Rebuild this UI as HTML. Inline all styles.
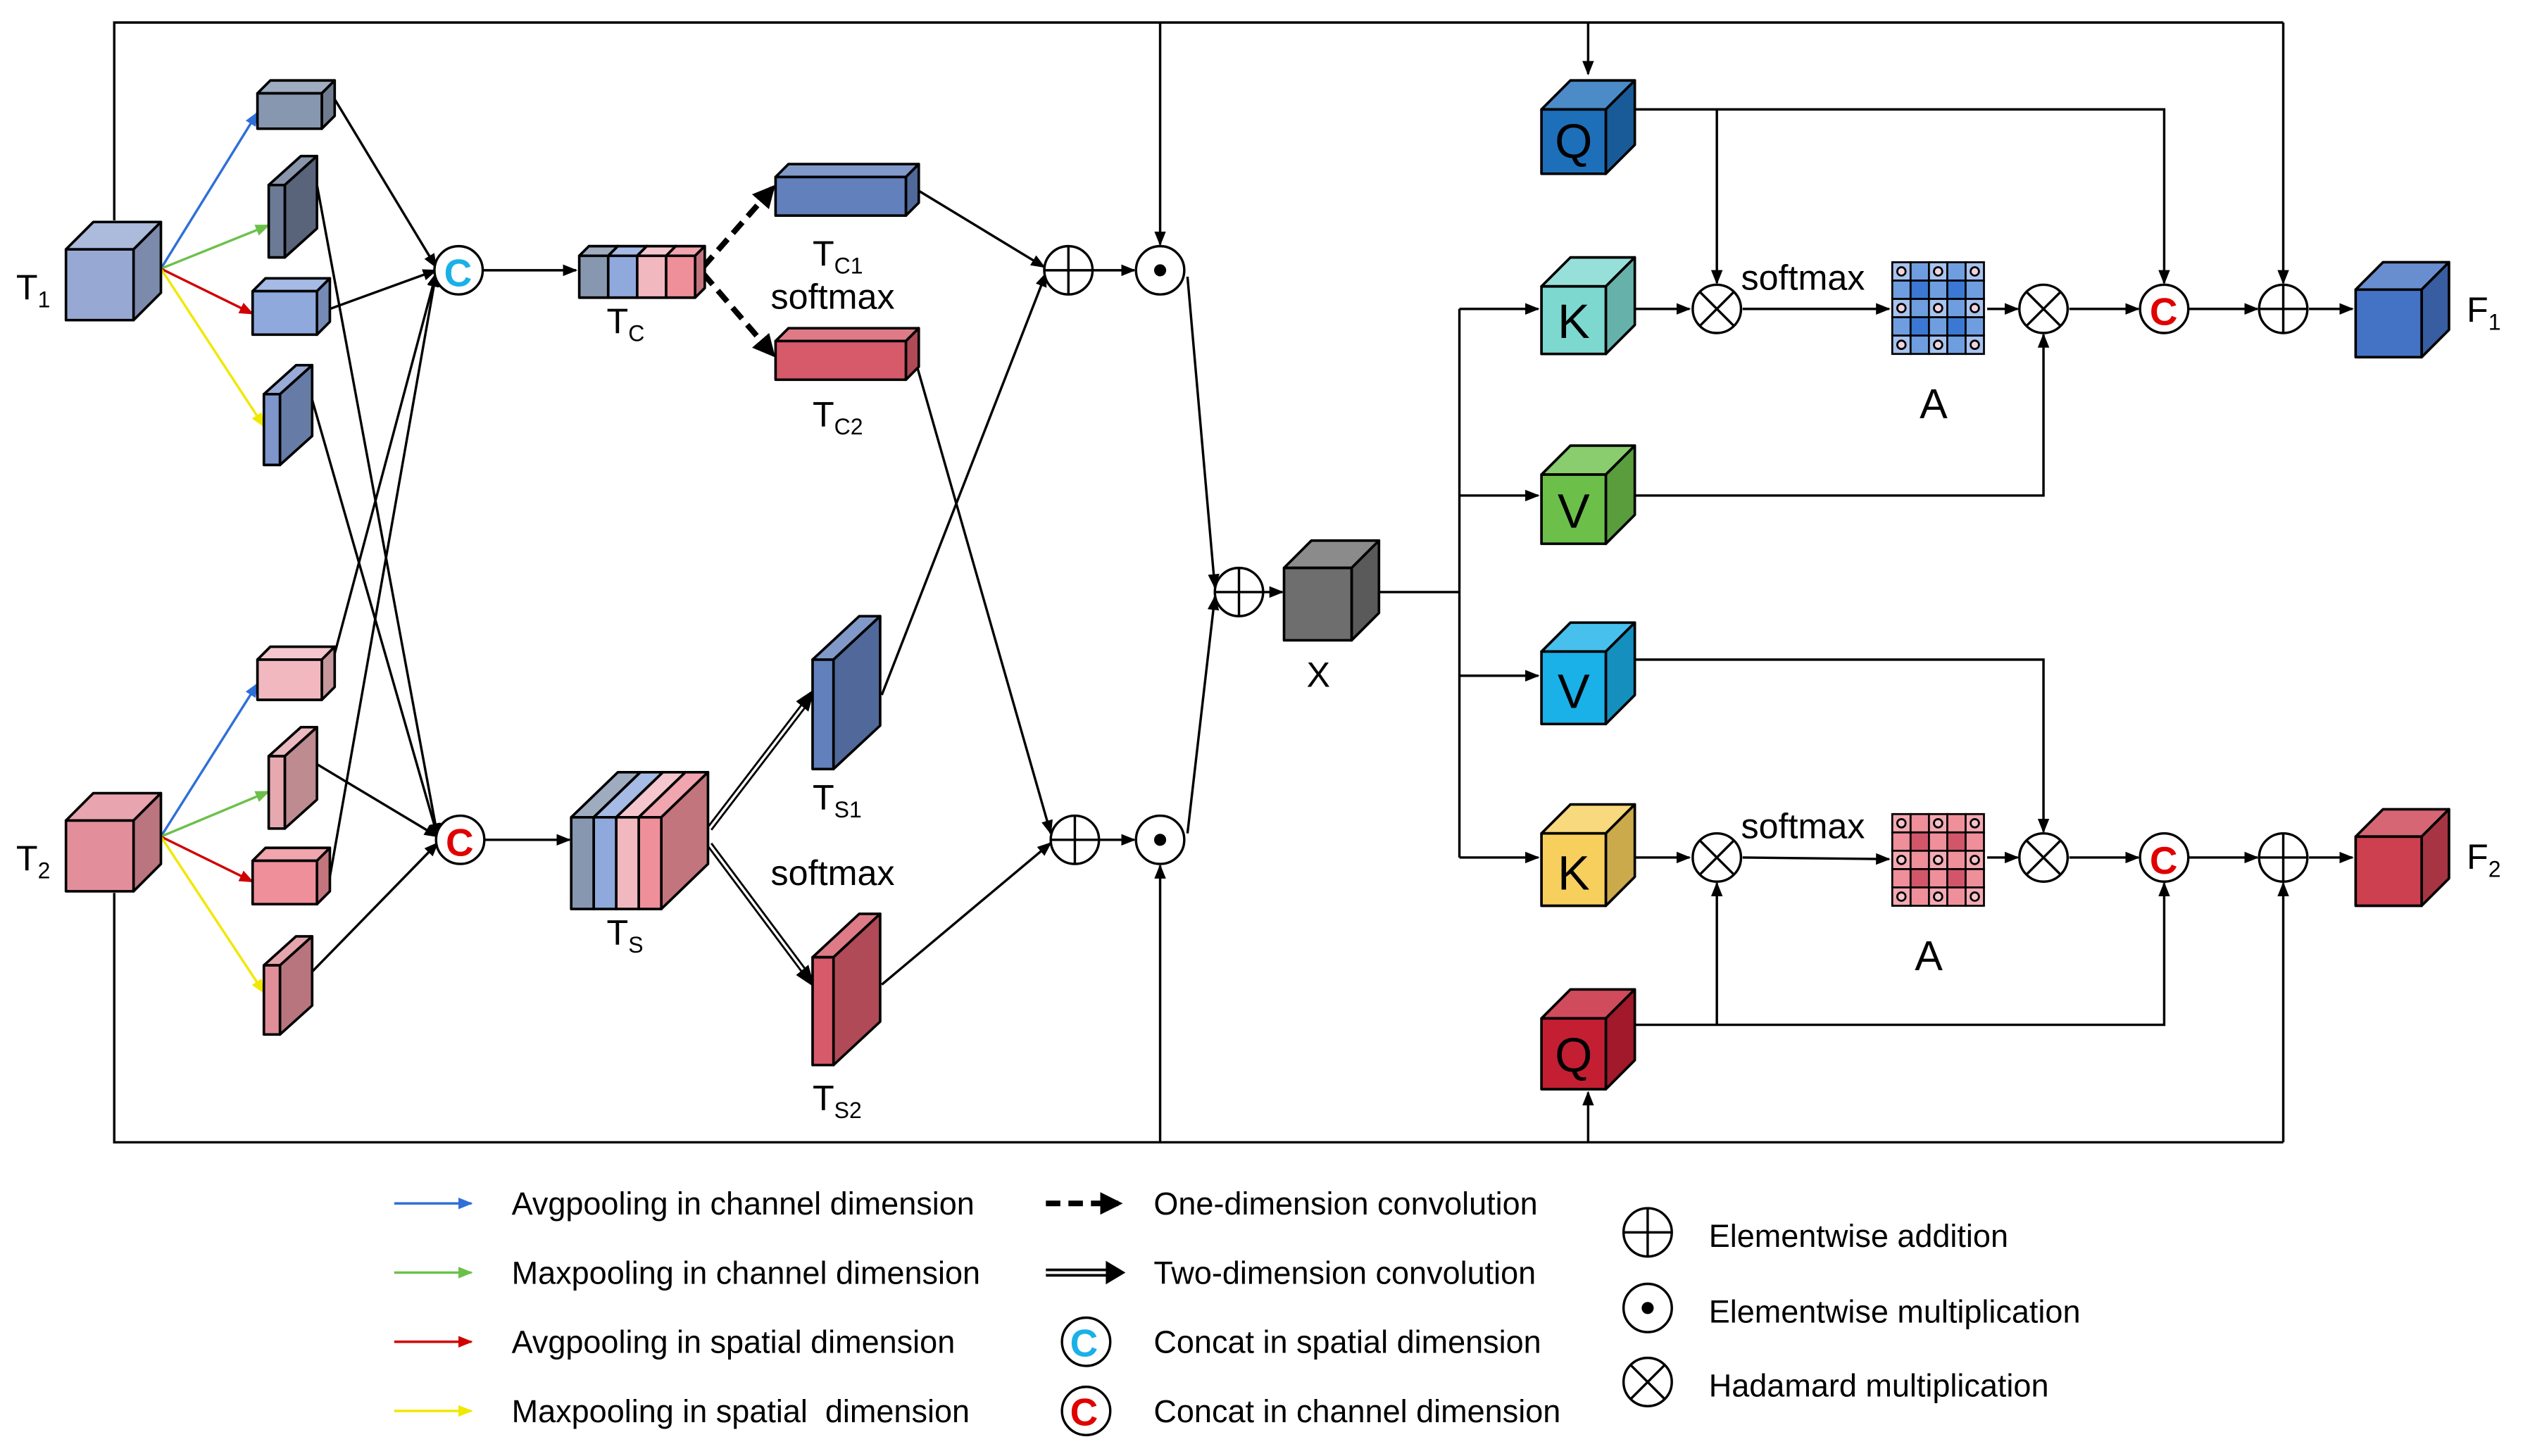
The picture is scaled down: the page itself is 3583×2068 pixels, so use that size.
<!DOCTYPE html>
<html><head><meta charset="utf-8"><style>
html,body{margin:0;padding:0;background:#fff;width:3583px;height:2068px;overflow:hidden}
svg{display:block}
text{font-family:"Liberation Sans",sans-serif;fill:#000}
</style></head><body>
<svg id="s" width="3583" height="2068" viewBox="0 0 1568 905" xmlns="http://www.w3.org/2000/svg">
<defs>
<marker id="a" viewBox="0 0 10 10" refX="9" refY="5" markerWidth="6" markerHeight="6" orient="auto"><path d="M0,1 L10,5 L0,9z" fill="#000"/></marker>
<marker id="ab" viewBox="0 0 10 10" refX="9" refY="5" markerWidth="6" markerHeight="6" orient="auto"><path d="M0,1 L10,5 L0,9z" fill="#2f6fd8"/></marker>
<marker id="ag" viewBox="0 0 10 10" refX="9" refY="5" markerWidth="6" markerHeight="6" orient="auto"><path d="M0,1 L10,5 L0,9z" fill="#6cc04a"/></marker>
<marker id="ar" viewBox="0 0 10 10" refX="9" refY="5" markerWidth="6" markerHeight="6" orient="auto"><path d="M0,1 L10,5 L0,9z" fill="#d00000"/></marker>
<marker id="ay" viewBox="0 0 10 10" refX="9" refY="5" markerWidth="6" markerHeight="6" orient="auto"><path d="M0,1 L10,5 L0,9z" fill="#f0e800"/></marker>
<marker id="ad" viewBox="0 0 10 10" refX="8" refY="5" markerWidth="4" markerHeight="4" orient="auto"><path d="M0,0 L10,5 L0,10z" fill="#000"/></marker>
</defs>
<g id="lines" fill="none" stroke="#000" stroke-width="1.5">
<polyline points="71,137 71,14 1419,14"/>
<polyline points="71,555 71,710 1419,710"/>
<line x1="721" y1="14" x2="721" y2="152" marker-end="url(#a)"/>
<line x1="987" y1="14" x2="987" y2="46" marker-end="url(#a)"/>
<line x1="1419" y1="14" x2="1419" y2="176" marker-end="url(#a)"/>
<line x1="721" y1="710" x2="721" y2="538" marker-end="url(#a)"/>
<line x1="987" y1="710" x2="987" y2="679" marker-end="url(#a)"/>
<line x1="1419" y1="710" x2="1419" y2="549" marker-end="url(#a)"/>
<line x1="100" y1="167" x2="160" y2="70" stroke="#2f6fd8" marker-end="url(#ab)"/>
<line x1="100" y1="167" x2="167" y2="140" stroke="#6cc04a" marker-end="url(#ag)"/>
<line x1="100" y1="167" x2="157" y2="195" stroke="#d00000" marker-end="url(#ar)"/>
<line x1="100" y1="167" x2="164" y2="265" stroke="#f0e800" marker-end="url(#ay)"/>
<line x1="100" y1="520" x2="160" y2="425" stroke="#2f6fd8" marker-end="url(#ab)"/>
<line x1="100" y1="520" x2="167" y2="492" stroke="#6cc04a" marker-end="url(#ag)"/>
<line x1="100" y1="520" x2="157" y2="548" stroke="#d00000" marker-end="url(#ar)"/>
<line x1="100" y1="520" x2="164" y2="617" stroke="#f0e800" marker-end="url(#ay)"/>
<line x1="207" y1="60" x2="271" y2="166" marker-end="url(#a)"/>
<line x1="205" y1="192" x2="271" y2="168" marker-end="url(#a)"/>
<line x1="207" y1="410" x2="271" y2="170" marker-end="url(#a)"/>
<line x1="205" y1="545" x2="271" y2="170" marker-end="url(#a)"/>
<line x1="197" y1="115" x2="272" y2="520" marker-end="url(#a)"/>
<line x1="193" y1="245" x2="272" y2="520" marker-end="url(#a)"/>
<line x1="197" y1="475" x2="272" y2="520" marker-end="url(#a)"/>
<line x1="193" y1="605" x2="272" y2="524" marker-end="url(#a)"/>
<line x1="299" y1="168" x2="358" y2="168" marker-end="url(#a)"/>
<line x1="300" y1="522" x2="354" y2="522" marker-end="url(#a)"/>
<line x1="437" y1="166" x2="480" y2="117" stroke-width="3.5" stroke-dasharray="9,5" marker-end="url(#ad)"/>
<line x1="437" y1="170" x2="480" y2="220" stroke-width="3.5" stroke-dasharray="9,5" marker-end="url(#ad)"/>
<line x1="441" y1="515" x2="503" y2="434" stroke-width="4"/>
<line x1="441" y1="515" x2="503" y2="434" stroke="#fff" stroke-width="1.5"/>
<polygon points="505,430 496,436 502,441" fill="#000"/>
<line x1="441" y1="525" x2="503" y2="608" stroke-width="4"/>
<line x1="441" y1="525" x2="503" y2="608" stroke="#fff" stroke-width="1.5"/>
<polygon points="505,612 496,606 502,601" fill="#000"/>
<line x1="570" y1="118" x2="649" y2="166" marker-end="url(#a)"/>
<line x1="548" y1="432" x2="650" y2="170" marker-end="url(#a)"/>
<line x1="570" y1="228" x2="653" y2="518" marker-end="url(#a)"/>
<line x1="548" y1="612" x2="653" y2="524" marker-end="url(#a)"/>
<line x1="679" y1="168" x2="705" y2="168" marker-end="url(#a)"/>
<line x1="683" y1="522" x2="705" y2="522" marker-end="url(#a)"/>
<line x1="738" y1="172" x2="755" y2="365" marker-end="url(#a)"/>
<line x1="738" y1="518" x2="755" y2="371" marker-end="url(#a)"/>
<line x1="785" y1="368" x2="797" y2="368" marker-end="url(#a)"/>
<line x1="857" y1="368" x2="907" y2="368"/>
<line x1="907" y1="192" x2="907" y2="533"/>
<line x1="907" y1="192" x2="956" y2="192" marker-end="url(#a)"/>
<line x1="907" y1="308" x2="956" y2="308" marker-end="url(#a)"/>
<line x1="907" y1="420" x2="956" y2="420" marker-end="url(#a)"/>
<line x1="907" y1="533" x2="956" y2="533" marker-end="url(#a)"/>
<line x1="1016" y1="192" x2="1050" y2="192" marker-end="url(#a)"/>
<polyline points="1016,68 1345,68 1345,176" marker-end="url(#a)"/>
<line x1="1067" y1="68" x2="1067" y2="176" marker-end="url(#a)"/>
<line x1="1083" y1="192" x2="1174" y2="192" marker-end="url(#a)"/>
<line x1="1235" y1="192" x2="1254" y2="192" marker-end="url(#a)"/>
<polyline points="1016,308 1270,308 1270,208" marker-end="url(#a)"/>
<line x1="1286" y1="192" x2="1329" y2="192" marker-end="url(#a)"/>
<line x1="1360" y1="192" x2="1403" y2="192" marker-end="url(#a)"/>
<line x1="1435" y1="192" x2="1462" y2="192" marker-end="url(#a)"/>
<line x1="1016" y1="533" x2="1050" y2="533" marker-end="url(#a)"/>
<line x1="1083" y1="533" x2="1174" y2="534" marker-end="url(#a)"/>
<line x1="1235" y1="533" x2="1254" y2="533" marker-end="url(#a)"/>
<polyline points="1016,410 1270,410 1270,517" marker-end="url(#a)"/>
<polyline points="1016,637 1345,637 1345,549" marker-end="url(#a)"/>
<line x1="1067" y1="637" x2="1067" y2="549" marker-end="url(#a)"/>
<line x1="1286" y1="533" x2="1329" y2="533" marker-end="url(#a)"/>
<line x1="1360" y1="533" x2="1403" y2="533" marker-end="url(#a)"/>
<line x1="1435" y1="533" x2="1462" y2="533" marker-end="url(#a)"/>
<line x1="245" y1="748" x2="293" y2="748" stroke="#2f6fd8" marker-end="url(#ab)"/>
<line x1="245" y1="791" x2="293" y2="791" stroke="#6cc04a" marker-end="url(#ag)"/>
<line x1="245" y1="834" x2="293" y2="834" stroke="#d00000" marker-end="url(#ar)"/>
<line x1="245" y1="877" x2="293" y2="877" stroke="#f0e800" marker-end="url(#ay)"/>
<line x1="650" y1="748" x2="695" y2="748" stroke-width="3.5" stroke-dasharray="9,5" marker-end="url(#ad)"/>
<line x1="650" y1="791" x2="694" y2="791" stroke-width="5"/>
<line x1="650" y1="791" x2="694" y2="791" stroke="#fff" stroke-width="1.8"/>
<polygon points="698,791 688,785 688,797" fill="#000"/>
</g>
<g id="shapes"></g>
<g id="ops" fill="#fff" stroke="#000" stroke-width="1.5"></g>
<g id="lbl" font-size="22">
<text x="10" y="186">T<tspan font-size="14" dy="5">1</tspan></text>
<text x="10" y="541">T<tspan font-size="14" dy="5">2</tspan></text>
<text x="377" y="207">T<tspan font-size="14" dy="5">C</tspan></text>
<text x="505" y="165">T<tspan font-size="14" dy="5">C1</tspan></text>
<text x="479" y="192" font-size="22">softmax</text>
<text x="505" y="265">T<tspan font-size="14" dy="5">C2</tspan></text>
<text x="377" y="587">T<tspan font-size="14" dy="5">S</tspan></text>
<text x="505" y="503">T<tspan font-size="14" dy="5">S1</tspan></text>
<text x="479" y="550" font-size="22">softmax</text>
<text x="505" y="690">T<tspan font-size="14" dy="5">S2</tspan></text>
<text x="812" y="427">X</text>
<text x="1082" y="180" font-size="22">softmax</text>
<text x="1082" y="521" font-size="22">softmax</text>
<text x="1193" y="260" font-size="26">A</text>
<text x="1190" y="603" font-size="26">A</text>
<text x="1533" y="200">F<tspan font-size="14" dy="5">1</tspan></text>
<text x="1533" y="540">F<tspan font-size="14" dy="5">2</tspan></text>
<text x="978" y="98" font-size="30" text-anchor="middle">Q</text>
<text x="978" y="210" font-size="30" text-anchor="middle">K</text>
<text x="978" y="328" font-size="30" text-anchor="middle">V</text>
<text x="978" y="440" font-size="30" text-anchor="middle">V</text>
<text x="978" y="553" font-size="30" text-anchor="middle">K</text>
<text x="978" y="666" font-size="30" text-anchor="middle">Q</text>
<text x="276" y="178" font-size="24" font-weight="bold" style="fill:#1ab0e8">C</text>
<text x="277" y="532" font-size="24" font-weight="bold" style="fill:#e00000">C</text>
<text x="1336" y="202" font-size="24" font-weight="bold" style="fill:#e00000">C</text>
<text x="1336" y="543" font-size="24" font-weight="bold" style="fill:#e00000">C</text>
<text x="665" y="843" font-size="24" font-weight="bold" style="fill:#1ab0e8">C</text>
<text x="665" y="886" font-size="24" font-weight="bold" style="fill:#e00000">C</text>
</g>
<g font-size="19.7">
<text x="318" y="755">Avgpooling in channel dimension</text>
<text x="318" y="798">Maxpooling in channel dimension</text>
<text x="318" y="841">Avgpooling in spatial dimension</text>
<text x="318" y="884">Maxpooling in spatial&#160; dimension</text>
<text x="717" y="755">One-dimension convolution</text>
<text x="717" y="798">Two-dimension convolution</text>
<text x="717" y="841">Concat in spatial dimension</text>
<text x="717" y="884">Concat in channel dimension</text>
<text x="1062" y="775">Elementwise addition</text>
<text x="1062" y="822">Elementwise multiplication</text>
<text x="1062" y="868">Hadamard multiplication</text>
</g>
</svg>
<script>
var NS="http://www.w3.org/2000/svg";
var S=document.getElementById("shapes"),O=document.getElementById("ops");
function el(p,t,a){var e=document.createElementNS(NS,t);for(var k in a)e.setAttribute(k,a[k]);p.appendChild(e);return e;}
function sh(c,f){var r=parseInt(c.substr(1,2),16),g=parseInt(c.substr(3,2),16),b=parseInt(c.substr(5,2),16);
function m(v){return Math.max(0,Math.min(255,Math.round(f>1?v+(255-v)*(f-1):v*f)));}
return "rgb("+m(r)+","+m(g)+","+m(b)+")";}
function cube(x,y,w,h,d,c,dy){dy=dy||d;var st={stroke:"#000","stroke-width":1.6,"stroke-linejoin":"round"};
var a=Object.assign({},st);a.points=[x,y,x+d,y-dy,x+w+d,y-dy,x+w,y].join(" ");a.fill=sh(c,1.2);el(S,"polygon",a);
a=Object.assign({},st);a.points=[x+w,y,x+w+d,y-dy,x+w+d,y+h-dy,x+w,y+h].join(" ");a.fill=sh(c,0.82);el(S,"polygon",a);
a=Object.assign({},st);a.x=x;a.y=y;a.width=w;a.height=h;a.fill=c;el(S,"rect",a);}
cube(41,155,42,44,17,"#97a9d2");
cube(41,510,42,44,17,"#e38f9b");
cube(160,58,40,22,8,"#8797b0");
cube(167,115,10,45,20,"#6c7a95",18);
cube(157,181,40,27,8,"#8fa9dd");
cube(164,245,10,44,20,"#7e96cc",18);
cube(160,410,40,25,8,"#f2b8c0");
cube(167,470,10,45,20,"#e6a9b0",18);
cube(157,535,40,27,8,"#ee8f9a");
cube(164,600,10,43,20,"#e08f98",18);
var tc=["#8797b0","#8fa9dd","#f2b8c0","#ee8f9a"];
for(var i=0;i<4;i++)cube(360+i*18,159,18,26,6,tc[i]);
for(var i=0;i<4;i++)cube(355+i*14,508,14,57,29,tc[i],28);
cube(482,110,81,24,8,"#6180bc");
cube(482,212,81,24,8,"#d65a69");
cube(505,410,13,68,29,"#6180bc",27);
cube(505,595,13,67,29,"#d65a69",27);
cube(798,353,42,45,17,"#6e6e6e");
cube(958,68,40,40,18,"#1e6fba");
cube(958,178,40,42,18,"#7dd8d0");
cube(958,295,40,43,18,"#6cc04a");
cube(958,405,40,45,18,"#1ab0e8");
cube(958,518,40,45,18,"#f7cf5c");
cube(958,633,40,44,18,"#c41e33");
cube(1464,180,41,42,17,"#4472c4");
cube(1464,520,41,43,17,"#cc4050");
function grid(x,y,c1,c2,c3,circ){var s=11.4;
for(var r=0;r<5;r++)for(var q=0;q<5;q++){var ev=(r%2==0&&q%2==0);var f=ev?c1:((r%2==0||q%2==0)?c2:c3);
if(r%2==1&&q==2)f=c2;
el(S,"rect",{x:x+q*s,y:y+r*s,width:s,height:s,fill:f,stroke:"#000","stroke-width":1.2});
if(ev)el(S,"circle",{cx:x+q*s+s/2,cy:y+r*s+s/2,r:2.6,fill:circ,stroke:"#000","stroke-width":1.2});}}
grid(1176,163,"#a7c3ef","#6f9ee0","#3a78d4","#f0d4dc");
grid(1176,506,"#f4a9b3","#ee8f9a","#d2566a","#f4c4cc");
function circ(x,y,t){el(O,"circle",{cx:x,cy:y,r:15});
if(t=="p"){el(O,"line",{x1:x-15,y1:y,x2:x+15,y2:y});el(O,"line",{x1:x,y1:y-15,x2:x,y2:y+15});}
if(t=="x"){var k=10.6;el(O,"line",{x1:x-k,y1:y-k,x2:x+k,y2:y+k});el(O,"line",{x1:x-k,y1:y+k,x2:x+k,y2:y-k});}
if(t=="d"){el(O,"circle",{cx:x,cy:y,r:3,fill:"#000"});}}
circ(285,168,"");circ(286,522,"");circ(1345,192,"");circ(1345,533,"");circ(675,834,"");circ(675,877,"");
circ(664,168,"p");circ(721,168,"d");circ(668,522,"p");circ(721,522,"d");circ(770,368,"p");
circ(1067,192,"x");circ(1270,192,"x");circ(1419,192,"p");
circ(1067,533,"x");circ(1270,533,"x");circ(1419,533,"p");
circ(1024,766,"p");circ(1024,813,"d");circ(1024,859,"x");
var svg=document.getElementById("s");svg.appendChild(document.getElementById("lbl"));
</script>
</body></html>
